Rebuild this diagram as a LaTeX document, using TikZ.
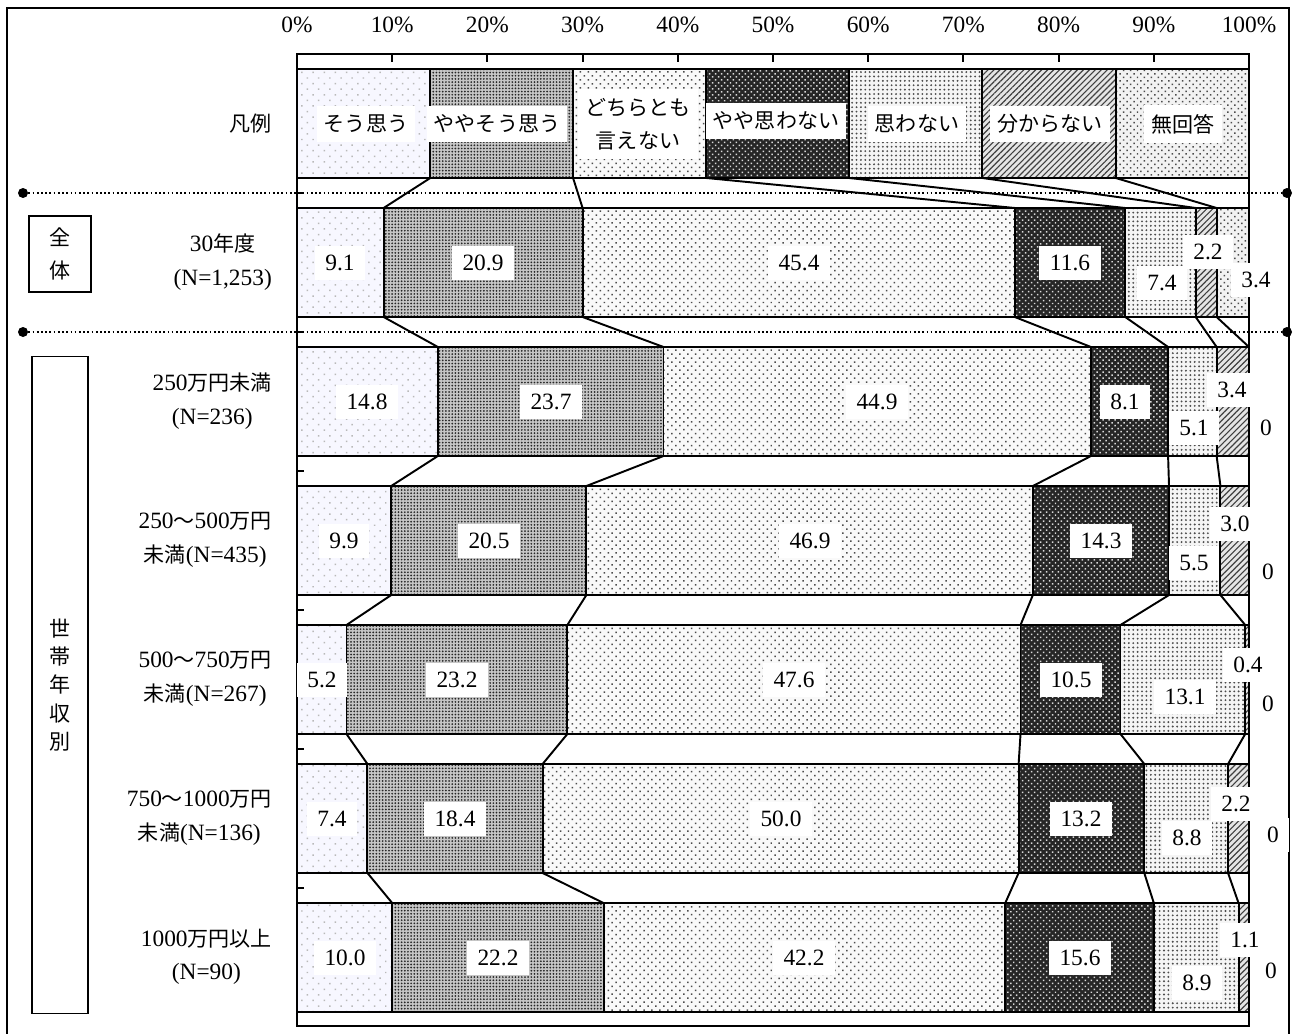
\documentclass[tikz,border=0pt]{standalone}
\usepackage{fontspec}
\setmainfont{Liberation Serif}
\newfontfamily\jp[Scale=0.9]{Noto Sans CJK JP}
\usetikzlibrary{patterns.meta}

\newcommand{\chartfont}{\fontsize{13.3pt}{19pt}\selectfont}

\tikzset{
  frame/.style={line width=1.2pt},
  seg/.style={draw=black, line width=1.1pt},
  seg1/.style={seg, preaction={fill=blue!3}, pattern={Dots[distance=4.5pt, angle=45, radius=0.6pt]}, pattern color=gray!55},
  seg2/.style={seg, preaction={fill=gray!45}, pattern={Dots[distance=1.8pt, radius=0.55pt]}, pattern color=black!85},
  seg3/.style={seg, preaction={fill=gray!5}, pattern={Dots[distance=3.2pt, angle=45, radius=0.6pt]}, pattern color=black!70},
  seg4/.style={seg, preaction={fill=black!85}, pattern={Dots[distance=2.4pt, angle=45, radius=0.6pt]}, pattern color=white!85!black},
  seg5/.style={seg, preaction={fill=gray!8}, pattern={Dots[distance=2.5pt, radius=0.6pt]}, pattern color=black!70},
  seg6/.style={seg, preaction={fill=gray!20}, pattern={Lines[angle=45, distance=2.4pt, line width=0.65pt]}, pattern color=black!75},
  seg7/.style={seg, preaction={fill=gray!10}, pattern={Dots[distance=2.8pt, angle=45, radius=0.6pt]}, pattern color=black!70},
  series/.style={line width=1.1pt},
  val/.style={fill=white, inner xsep=6pt, inner ysep=5pt},
  keybox/.style={fill=white, inner xsep=4pt, inner ysep=5pt, align=center, font=\chartfont\jp},
  cat/.style={anchor=east, align=center},
  group/.style={draw, line width=0.9pt, align=center},
  dot/.style={circle, fill, inner sep=0pt, minimum size=0.2cm},
  sep/.style={line width=1pt, dash pattern=on 1pt off 1.4pt}
}

% one stacked bar: name, top y, cumulative ends
\newcommand{\stackbar}[3]{%
  \foreach \c [count=\k, remember=\c as \p (initially 0)] in {#3,100} {
    \path[seg\k] (297+9.52*\p,#2) rectangle (297+9.52*\c,#2+109);
    \coordinate (#1-t\k) at (297+9.52*\c,#2);
    \coordinate (#1-b\k) at (297+9.52*\c,#2+109);
  }}

\begin{document}
\begin{tikzpicture}[x=0.02cm, y=-0.02cm, font=\chartfont]
\useasboundingbox (0,0) rectangle (1295,1034);
\draw[frame] (7,8) rectangle (1289,1040);

% dotted separators
\node[dot] (d1) at (23,193) {};
\node[dot] (d2) at (1287,193) {};
\node[dot] (d3) at (23,332) {};
\node[dot] (d4) at (1287,332) {};
\draw[sep] (d1) -- (d2);
\draw[sep] (d3) -- (d4);

% plot area
\draw[frame] (297,54) rectangle (1249,1026);
\foreach \p in {10,20,...,90}
  \draw[frame] (297+9.52*\p,54) -- ++(0,8);
\foreach \y in {193,332,471,610,749,888}
  \draw[frame] (297,\y) -- ++(7,0);
\foreach \p in {0,10,...,100}
  \node (ax\p) at (297+9.52*\p,25) {\p\%};

% bars
\stackbar{r0}{69}{14,29,43,58,72,86}
\stackbar{r1}{208}{9.1,30.0,75.4,87.0,94.4,96.6}
\stackbar{r2}{347}{14.8,38.5,83.4,91.5,96.6,100}
\stackbar{r3}{486}{9.9,30.4,77.3,91.6,97.0,100}
\stackbar{r4}{625}{5.2,28.4,76.0,86.5,99.6,100}
\stackbar{r5}{764}{7.4,25.8,75.8,89.0,97.8,100}
\stackbar{r6}{903}{10.0,32.2,74.4,90.0,98.9,100}

% series lines
\foreach \r [count=\n] in {0,...,5}
  \foreach \k in {1,...,6}
    \draw[series] (r\r-b\k) -- (r\n-t\k);

% legend keys
\node[keybox] (k1) at (366,124) {そう思う};
\node[keybox] (k2) at (497,124) {ややそう思う};
\node[keybox] (k3) at (638,124) {どちらとも\\言えない};
\node[keybox] (k4) at (776,121) {やや思わない};
\node[keybox] (k5) at (917,124) {思わない};
\node[keybox] (k6) at (1050,124) {分からない};
\node[keybox] (k7) at (1183,124) {無回答};

% row labels
\node[cat] (c0) at (278,124) {\jp 凡例};
\node[cat] (c1) at (278,262) {30{\jp 年度}\\(N=1,253)};
\node[cat] (c2) at (278,401) {250{\jp 万円未満}\\(N=236)};
\node[cat] (c3) at (278,540) {250{\jp 〜}500{\jp 万円}\\{\jp 未満}(N=435)};
\node[cat] (c4) at (278,679) {500{\jp 〜}750{\jp 万円}\\{\jp 未満}(N=267)};
\node[cat] (c5) at (278,818) {750{\jp 〜}1000{\jp 万円}\\{\jp 未満}(N=136)};
\node[cat] (c6) at (278,957) {1000{\jp 万円以上}\\(N=90)};

% group boxes
\node[group, minimum width=1.24cm, minimum height=1.52cm, font=\chartfont\jp] (g1) at (60,254) {全\\体};
\node[group, minimum width=1.12cm, minimum height=13.14cm, font=\fontsize{13.3pt}{16pt}\selectfont\jp] (g2) at (60,685) {世\\帯\\年\\収\\別};

% data labels
\foreach \v/\x/\y [count=\i] in {9.1/340/263, 20.9/483/263, 45.4/799/263, 11.6/1070/263, 7.4/1162/283, 2.2/1208/252, 3.4/1256/280}
  \node[val] (a1\i) at (\x,\y) {\v};
\foreach \v/\x/\y [count=\i] in {14.8/367/402, 23.7/551/402, 44.9/877/402, 8.1/1125/402, 5.1/1194/428, 3.4/1232/390, 0/1266/428}
  \node[val] (a2\i) at (\x,\y) {\v};
\foreach \v/\x/\y [count=\i] in {9.9/344/541, 20.5/489/541, 46.9/810/541, 14.3/1101/541, 5.5/1194/563, 3.0/1235/524, 0/1268/572}
  \node[val] (a3\i) at (\x,\y) {\v};
\foreach \v/\x/\y [count=\i] in {5.2/322/680, 23.2/457/680, 47.6/794/680, 10.5/1071/680, 13.1/1185/697, 0.4/1248/665, 0/1268/704}
  \node[val] (a4\i) at (\x,\y) {\v};
\foreach \v/\x/\y [count=\i] in {7.4/332/819, 18.4/455/819, 50.0/781/819, 13.2/1081/819, 8.8/1187/838, 2.2/1236/804, 0/1273/835}
  \node[val] (a5\i) at (\x,\y) {\v};
\foreach \v/\x/\y [count=\i] in {10.0/345/958, 22.2/498/958, 42.2/804/958, 15.6/1080/958, 8.9/1197/983, 1.1/1245/940, 0/1271/971}
  \node[val] (a6\i) at (\x,\y) {\v};
\end{tikzpicture}
\end{document}
